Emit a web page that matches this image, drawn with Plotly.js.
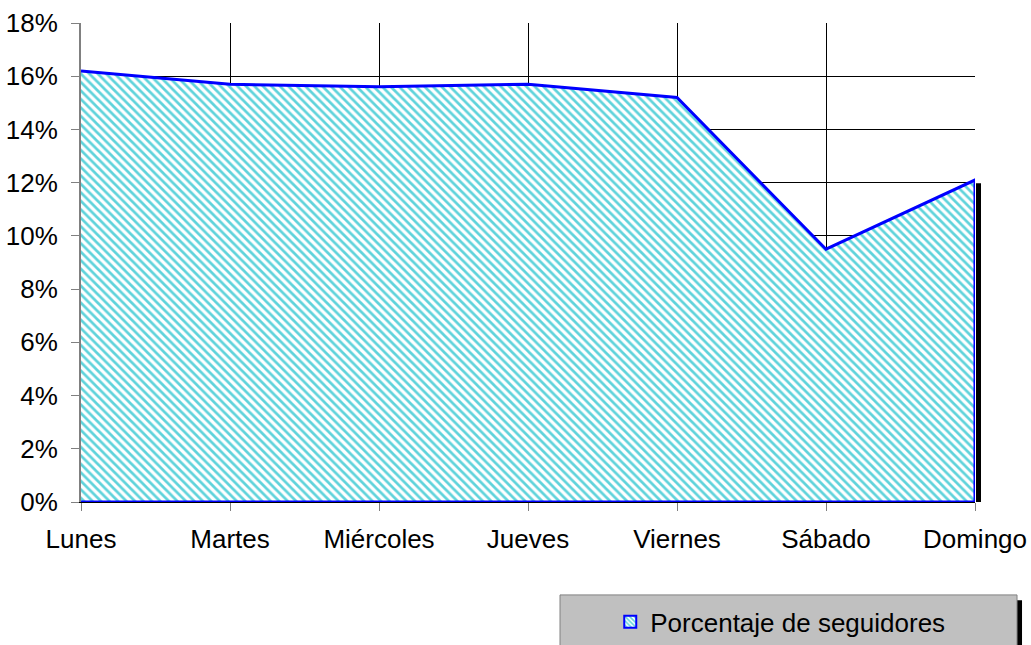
<!DOCTYPE html>
<html>
<head>
<meta charset="utf-8">
<script src="https://cdn.plot.ly/plotly-3.0.1.min.js"></script>
<style>html,body{margin:0;padding:0;background:#fff;}#chart{width:1031px;height:645px;}</style>
</head>
<body>
<div id="chart"></div>
<script>
const categories = ["Lunes", "Martes", "Miércoles", "Jueves", "Viernes", "Sábado", "Domingo"];
const seguidores = [0.162, 0.157, 0.156, 0.157, 0.152, 0.095, 0.121];
const yTicks = [0, 0.02, 0.04, 0.06, 0.08, 0.10, 0.12, 0.14, 0.16, 0.18];
const seriesName = "Porcentaje de seguidores";

const n = categories.length;
const polyX = categories.concat([categories[n - 1], categories[0]]);
const polyY = seguidores.concat([0, 0]);

const hatch = {shape: "\\", fgcolor: "#5fd3db", bgcolor: "#ffffff", size: 6, solidity: 0.45};

const area = {
  type: "scatter",
  mode: "lines",
  x: polyX,
  y: polyY,
  name: seriesName,
  fill: "toself",
  fillcolor: "#ffffff",
  fillpattern: hatch,
  line: {color: "#0000ff", width: 3},
  showlegend: false,
  hoverinfo: "skip"
};

const legendEntry = {
  type: "bar",
  x: [null],
  y: [null],
  name: seriesName,
  marker: {color: "#ffffff", pattern: {shape: "\\", fgcolor: "#5fd3db", bgcolor: "#ffffff", size: 4, solidity: 0.5},
           line: {color: "#0000ff", width: 2}},
  showlegend: true,
  hoverinfo: "skip"
};

const last = seguidores[n - 1];

const layout = {
  width: 1031,
  height: 645,
  margin: {l: 81, r: 56, t: 23, b: 143, autoexpand: false},
  paper_bgcolor: "#ffffff",
  plot_bgcolor: "#ffffff",
  font: {family: "Liberation Sans, Arial, sans-serif", size: 26, color: "#000"},
  xaxis: {
    type: "category",
    categoryorder: "array",
    categoryarray: categories,
    range: [0, n - 1],
    showgrid: true,
    gridcolor: "#000000",
    gridwidth: 1,
    ticks: "outside",
    ticklen: 8,
    tickcolor: "#808080",
    ticklabelstandoff: 6,
    showline: true,
    linecolor: "#000",
    linewidth: 1,
    zeroline: false,
    tickfont: {size: 26},
    automargin: false,
    fixedrange: true
  },
  yaxis: {
    range: [0, 0.18],
    tickvals: yTicks,
    tickformat: ".0%",
    showgrid: true,
    gridcolor: "#000000",
    gridwidth: 1,
    ticks: "outside",
    ticklen: 8,
    tickcolor: "#808080",
    ticklabelstandoff: 8,
    showline: true,
    linecolor: "#808080",
    linewidth: 2,
    zeroline: false,
    tickfont: {size: 26},
    automargin: false,
    fixedrange: true
  },
  showlegend: true,
  legend: {
    x: 0.592,
    xanchor: "left",
    y: -0.25,
    yanchor: "middle",
    bgcolor: "rgba(0,0,0,0)",
    borderwidth: 0,
    font: {size: 26},
    itemwidth: 30
  },
  shapes: [
    {type: "rect", xref: "paper", yref: "y", xsizemode: "pixel", xanchor: 1, x0: 1, x1: 6, y0: 0, y1: last * 0.99,
     fillcolor: "#000", line: {width: 0}, layer: "above"},
    {type: "rect", xref: "paper", yref: "paper", x0: 0.5414, x1: 1.0526, y0: -0.205, y1: -0.32,
     fillcolor: "#000", line: {width: 0}, layer: "below"},
    {type: "rect", xref: "paper", yref: "paper", x0: 0.5358, x1: 1.0470, y0: -0.194, y1: -0.32,
     fillcolor: "#c0c0c0", line: {width: 1, color: "#808080"}, layer: "below"}
  ]
};

Plotly.newPlot("chart", [area, legendEntry], layout, {displayModeBar: false, staticPlot: true});
</script>
</body>
</html>
